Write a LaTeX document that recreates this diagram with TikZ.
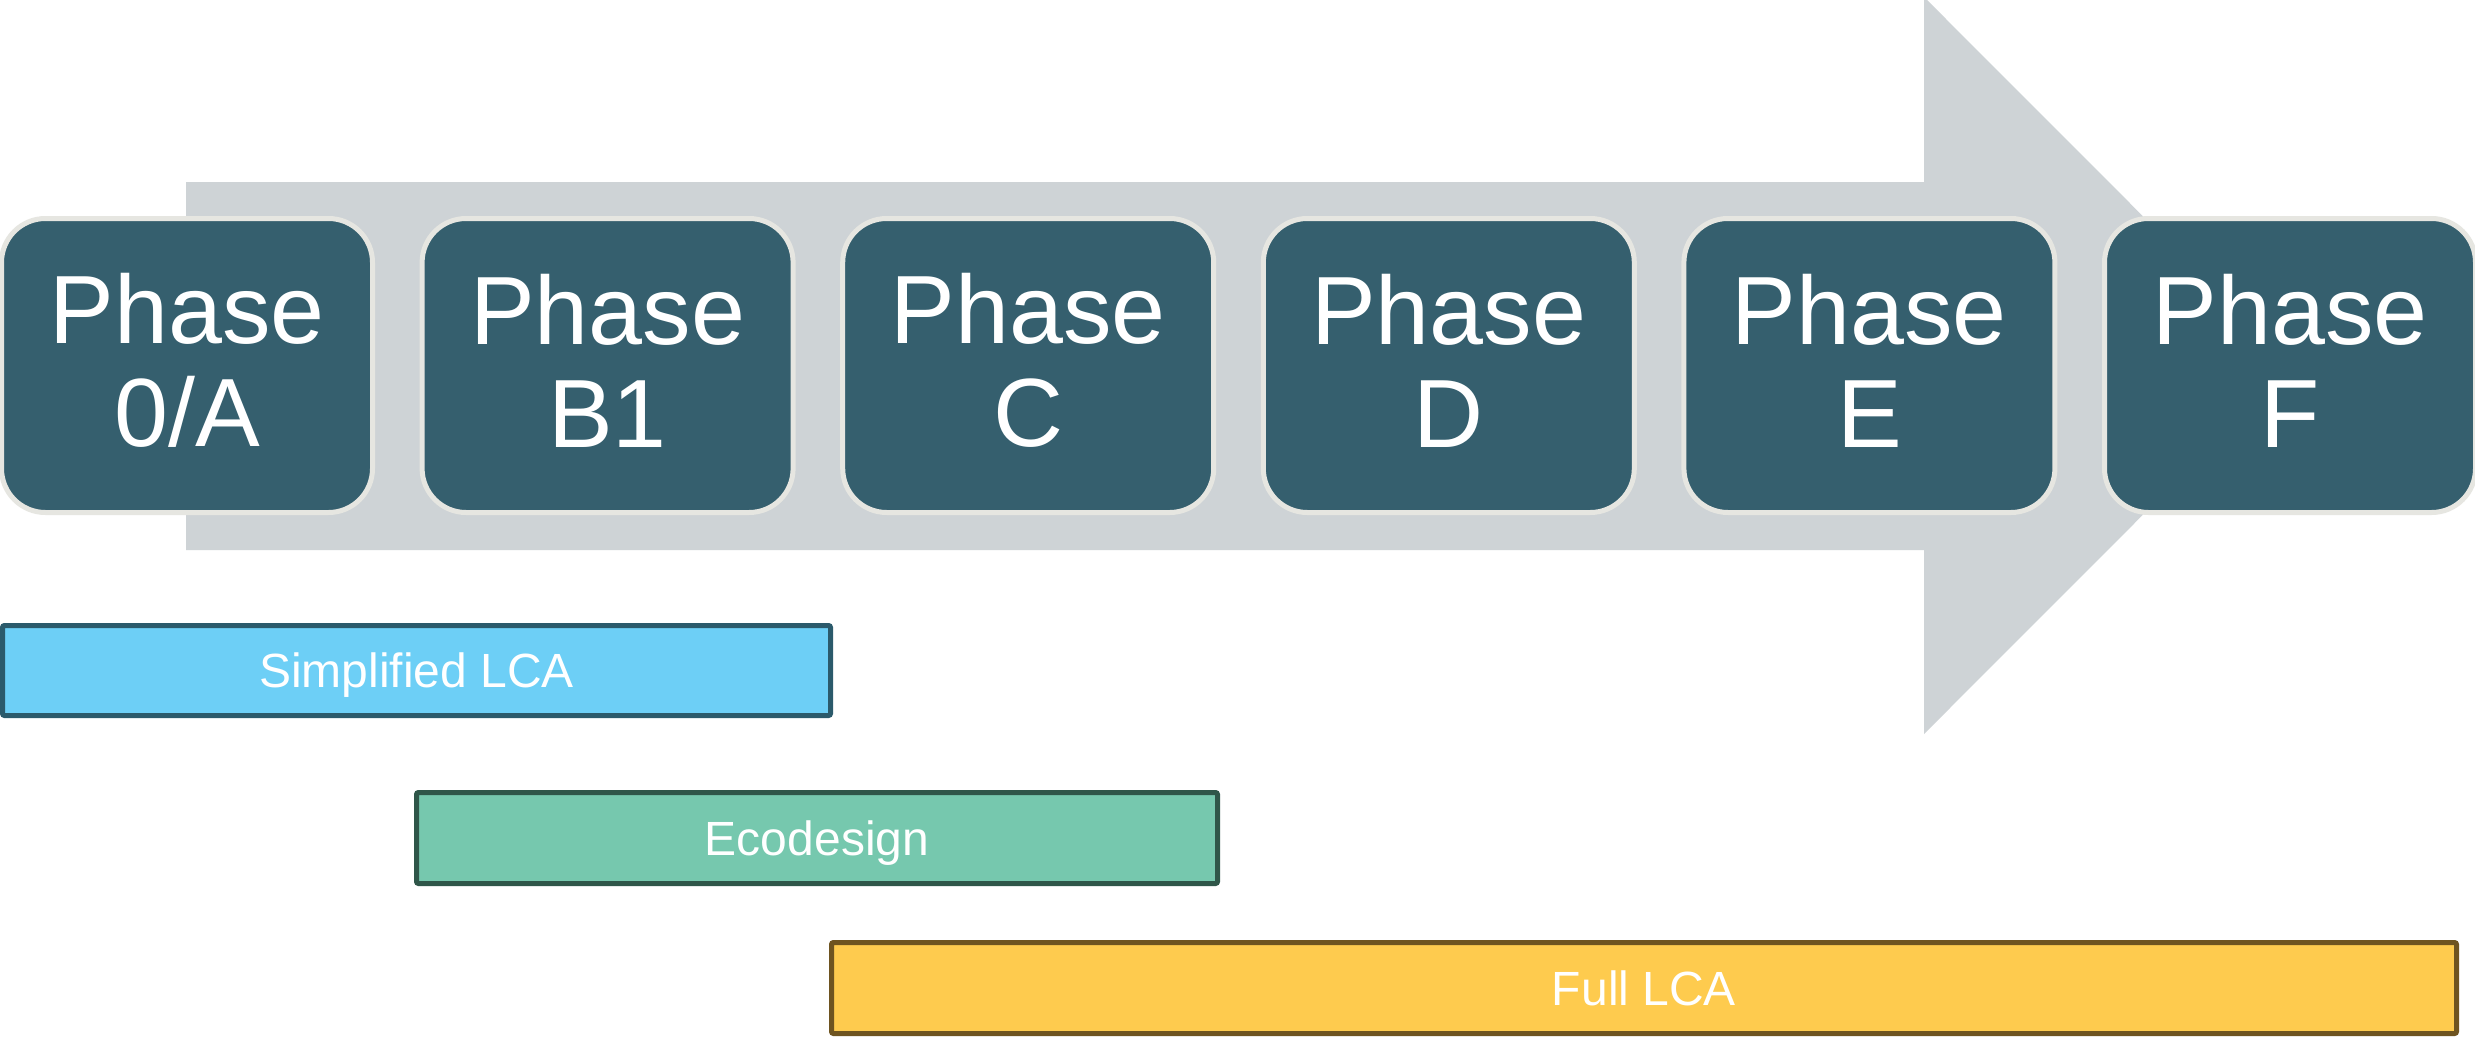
\documentclass[tikz,border=0pt]{standalone}
\usepackage{fontspec}
\setmainfont{Liberation Sans}
\definecolor{phasefill}{RGB}{53,95,110}
\definecolor{phaseborder}{RGB}{230,230,225}
\definecolor{arrowgrey}{RGB}{206,211,214}
\definecolor{simpfill}{RGB}{109,207,246}
\definecolor{simpborder}{RGB}{43,90,107}
\definecolor{ecofill}{RGB}{118,200,174}
\definecolor{ecoborder}{RGB}{47,86,73}
\definecolor{fullfill}{RGB}{254,203,78}
\definecolor{fullborder}{RGB}{110,84,32}
\tikzset{
  phasebox/.style={draw=phaseborder, fill=phasefill, line width=5pt,
    rounded corners=44pt, minimum width=371pt, minimum height=294pt,
    inner sep=0pt},
  phasetext/.style={inner sep=0pt, align=center, text=white, yshift=5pt,
    font=\fontsize{97}{103}\selectfont},
  barbox/.style={line width=5pt, rounded corners=2pt, inner sep=0pt,
    text=white, text depth=0pt, font=\fontsize{48}{56}\selectfont},
}
\begin{document}
\begin{tikzpicture}[x=1pt,y=-1pt]
\useasboundingbox (0,0) rectangle (2475,1038);
\clip (0,0) rectangle (2475,1038);
\fill[white] (0,0) rectangle (2475,1038);
% big process arrow
\fill[arrowgrey] (186,182) -- (1924,182) -- (1924,-3) -- (2292,365.5)
  -- (1924,734) -- (1924,550) -- (186,550) -- cycle;
% phase boxes
\node[phasebox] (p0) at (187,365.5) {};
\node[phasebox] (p1) at (607.6,365.5) {};
\node[phasebox] (p2) at (1028.2,365.5) {};
\node[phasebox] (p3) at (1448.8,365.5) {};
\node[phasebox] (p4) at (1869.4,365.5) {};
\node[phasebox] (p5) at (2290,365.5) {};
\node[phasetext] (t0) at (p0.center) {Phase\\0/A};
\node[phasetext] (t1) at (p1.center) {Phase\\B1};
\node[phasetext] (t2) at (p2.center) {Phase\\C};
\node[phasetext] (t3) at (p3.center) {Phase\\D};
\node[phasetext] (t4) at (p4.center) {Phase\\E};
\node[phasetext] (t5) at (p5.center) {Phase\\F};
% bars
\node[barbox, draw=simpborder, fill=simpfill, minimum width=828pt, minimum height=90pt] (simp) at (416.5,670.5) {Simplified LCA};
\node[barbox, draw=ecoborder, fill=ecofill, minimum width=801pt, minimum height=91pt] (eco) at (817,838) {Ecodesign};
\node[barbox, draw=fullborder, fill=fullfill, minimum width=1625pt, minimum height=91pt] (full) at (1644,988) {Full LCA};
\end{tikzpicture}
\end{document}
